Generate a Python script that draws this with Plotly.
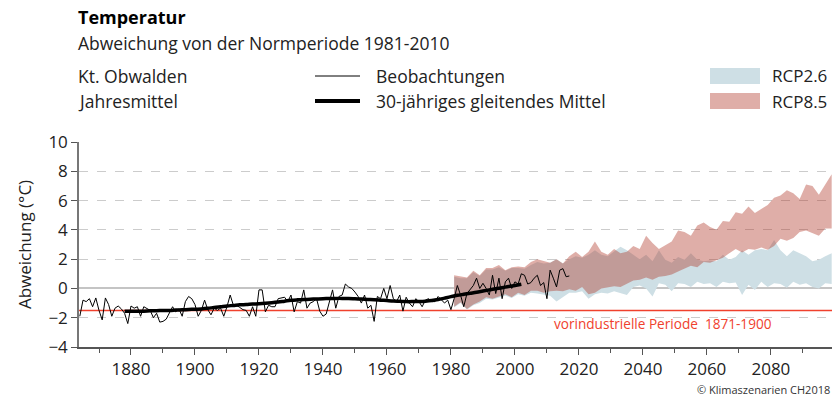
import plotly.graph_objects as go

# ---------------- data ----------------
obs_years = list(range(1864, 2018))
obs_values = [
    -1.9, -0.8, -0.9, -0.7, -1.25, -0.65, -1.5, -2.15, -0.65, -1.1,   # 1864-1873
    -1.9, -1.35, -1.2, -1.4, -1.7, -2.4, -1.2, -1.35, -1.25, -1.9,    # 1874-1883
    -1.25, -1.35, -1.5, -2.0, -1.7, -2.3, -2.25, -2.1, -1.7, -1.25,   # 1884-1893
    -1.6, -1.4, -1.9, -0.9, -0.55, -0.7, -1.1, -1.9, -1.5, -0.8,      # 1894-1903
    -1.45, -1.8, -1.35, -1.5, -1.35, -1.9, -1.25, -0.45, -1.15, -1.15,  # 1904-1913
    -1.3, -1.45, -1.5, -1.9, -1.25, -1.9, -0.1, -0.1, -1.6, -1.15,    # 1914-1923
    -1.25, -1.25, -0.7, -0.65, -0.6, -0.9, -0.45, -1.6, -0.9, -1.0,   # 1924-1933
    -0.1, -1.35, -1.0, -0.9, -0.7, -1.55, -1.9, -1.75, -1.0, -0.1,    # 1934-1943
    -1.35, -0.55, -0.45, 0.3, 0.1, 0.0, -0.25, -0.55, -1.0, -0.45,    # 1944-1953
    -1.35, -1.15, -2.25, -0.55, -0.7, 0.0, -0.7, 0.2, -0.7, -0.9,     # 1954-1963
    -0.45, -1.55, -0.6, -1.0, -1.25, -0.7, -0.9, -1.25, -0.8, -0.7,   # 1964-1973
    -0.9, -0.9, -0.55, -0.8, -1.0, -0.8, -1.45, -0.7, 0.2, -0.45,     # 1974-1983
    -1.25, -0.35, -0.1, 0.2, 0.7, 0.0, 0.35, 0.0, -0.45, 0.9,         # 1984-1993
    -0.35, 0.7, -0.7, 0.45, 0.7, 0.0, 0.45, 0.3, 1.0, 0.9,            # 1994-2003
    0.3, 0.4, 0.7, 0.9, 0.2, 0.4, -0.7, 1.25, 0.7, 0.1,               # 2004-2013
    1.25, 1.35, 0.8, 0.85,                                            # 2014-2017
]

mean_years = list(range(1878, 2003, 2))
mean_values = [
    -1.55, -1.55, -1.55, -1.55, -1.53, -1.52, -1.5, -1.5, -1.48, -1.46,   # 1878-1896
    -1.44, -1.42, -1.4, -1.36, -1.3, -1.25, -1.2, -1.16, -1.12, -1.1,     # 1898-1916
    -1.07, -1.05, -1.02, -0.98, -0.93, -0.87, -0.81, -0.78, -0.76, -0.74, # 1918-1936
    -0.72, -0.7, -0.69, -0.68, -0.68, -0.69, -0.71, -0.73, -0.75, -0.77, # 1938-1956
    -0.8, -0.83, -0.86, -0.88, -0.9, -0.9, -0.89, -0.87, -0.83, -0.76,   # 1958-1976
    -0.66, -0.56, -0.47, -0.4, -0.33, -0.26, -0.18, -0.1, -0.02, 0.05,   # 1978-1996
    0.13, 0.2, 0.28,                                                     # 1998-2002
]

band_years = list(range(1981, 2100, 2))
rcp85_upper = [
    0.9, 0.8, 0.75, 1.2, 0.9, 1.4, 1.4, 1.6, 1.25, 1.45,
    1.5, 1.45, 1.8, 2.0, 1.85, 1.75, 2.0, 1.7, 2.2, 2.5,
    2.15, 2.5, 3.2, 2.5, 2.3, 2.7, 2.4, 2.5, 2.9, 2.7,
    3.6, 3.1, 2.7, 2.95, 3.2, 3.95, 3.85, 3.6, 4.3, 4.5,
    4.2, 4.0, 4.6, 4.55, 5.2, 5.1, 5.6, 5.15, 5.4, 5.7,
    6.2, 6.35, 6.7, 6.5, 6.1, 7.1, 7.0, 6.4, 7.1, 7.8,
]
rcp85_lower = [
    -1.25, -0.95, -1.4, -1.1, -0.9, -0.6, -0.7, -0.55, -0.4, -0.6,
    -0.3, -0.45, -0.15, -0.15, -0.3, -0.2, -0.15, -0.2, -0.05, -0.15,
    0.1, -0.4, -0.3, 0.0, 0.1, 0.15, 0.1, 0.35, 0.55, 0.6,
    0.75, 0.6, 0.8, 0.85, 0.95, 1.15, 1.35, 1.55, 1.45, 1.8,
    1.75, 1.9, 2.1, 2.4, 2.7, 2.45, 2.7, 2.65, 2.8, 2.65,
    2.9, 3.4, 3.25, 3.45, 3.85, 3.95, 3.75, 3.6, 4.1, 4.1,
]
rcp26_upper = [
    0.8, 0.7, 0.7, 1.1, 0.85, 1.3, 1.3, 1.45, 1.2, 1.4,
    1.4, 1.35, 1.6, 1.8, 1.7, 1.75, 2.0, 1.7, 2.0, 2.2,
    2.1, 2.3, 2.6, 2.3, 2.2, 2.5, 2.85, 2.6, 2.3, 2.0,
    2.3, 1.85, 2.6, 1.95, 1.75, 2.15, 1.95, 2.4, 1.95, 1.85,
    1.9, 1.85, 2.3, 1.95, 2.15, 2.6, 2.3, 2.6, 2.7, 2.6,
    3.3, 2.6, 2.2, 2.6, 2.4, 2.2, 1.85, 1.95, 2.2, 2.4,
]
rcp26_lower = [
    -1.3, -1.0, -1.45, -1.15, -1.0, -0.7, -0.75, -0.6, -0.5, -0.65,
    -0.4, -0.5, -0.3, -0.35, -0.4, -0.5, -0.9, -0.6, -0.3, -0.3,
    -0.2, -0.7, -0.4, -0.3, -0.35, -0.2, -0.3, -0.45, 0.1, 0.2,
    0.0, -0.55, 0.35, 0.25, -0.2, 0.35, 0.3, 0.1, 0.45, 0.3,
    0.35, 0.1, 0.45, 0.35, 0.4, -0.45, 0.25, -0.1, 0.45, 0.1,
    0.35, 0.3, 0.05, 0.45, 0.25, 0.35, 0.1, 0.0, 0.35, 0.3,
]

preindustrial_level = -1.5
y_ticks = [-4, -2, 0, 2, 4, 6, 8, 10]
x_range = [1863.75, 2099.1]
y_range = [-4, 10]

# ---------------- style ----------------
FONT = "Open Sans"
BLUE = "rgb(206,223,229)"
RED = "rgba(175,52,37,0.4)"
RED_SWATCH = "rgb(223,174,168)"
PRE_RED = "#f0412d"
TXT = "#222222"

W, H = 834, 401
L, R, T, B = 79, 2, 142, 54


def px(x):
    return (x - L) / (W - L - R)


def py(y):
    return (H - B - y) / (H - T - B)


fig = go.Figure()

# RCP2.6 band
fig.add_trace(go.Scatter(x=band_years, y=rcp26_lower, mode="lines",
                         line=dict(width=0), hoverinfo="skip", showlegend=False))
fig.add_trace(go.Scatter(x=band_years, y=rcp26_upper, mode="lines",
                         line=dict(width=0), fill="tonexty", fillcolor=BLUE,
                         hoverinfo="skip", showlegend=False))
# RCP8.5 band
fig.add_trace(go.Scatter(x=band_years, y=rcp85_lower, mode="lines",
                         line=dict(width=0), hoverinfo="skip", showlegend=False))
fig.add_trace(go.Scatter(x=band_years, y=rcp85_upper, mode="lines",
                         line=dict(width=0), fill="tonexty", fillcolor=RED,
                         hoverinfo="skip", showlegend=False))

# observations and moving mean
fig.add_trace(go.Scatter(x=obs_years, y=obs_values, mode="lines",
                         line=dict(color="black", width=1), showlegend=False))
fig.add_trace(go.Scatter(x=mean_years, y=mean_values, mode="lines",
                         line=dict(color="black", width=3.5, shape="spline"),
                         showlegend=False))

shapes = [
    dict(type="line", xref="x", yref="y", x0=x_range[0], x1=x_range[1],
         y0=preindustrial_level, y1=preindustrial_level,
         line=dict(color=PRE_RED, width=1.5), layer="below"),
    # legend
    dict(type="line", xref="paper", yref="paper", x0=px(315), x1=px(360),
         y0=py(76), y1=py(76), line=dict(color="black", width=1)),
    dict(type="line", xref="paper", yref="paper", x0=px(315), x1=px(360),
         y0=py(101), y1=py(101), line=dict(color="black", width=4)),
    dict(type="rect", xref="paper", yref="paper", x0=px(710), x1=px(760),
         y0=py(84), y1=py(68), fillcolor=BLUE, line=dict(width=0)),
    dict(type="rect", xref="paper", yref="paper", x0=px(710), x1=px(760),
         y0=py(109), y1=py(93), fillcolor=RED_SWATCH, line=dict(width=0)),
]


def text(x, y, s, size=17.5, color=TXT, xanchor="left", bold=False):
    return dict(x=px(x), y=py(y), xref="paper", yref="paper", text=("<b>%s</b>" % s) if bold else s,
                showarrow=False, xanchor=xanchor, yanchor="middle",
                font=dict(family=FONT, size=size, color=color))


annotations = [
    text(76, 17, "Temperatur", size=18, color="black", bold=True),
    text(76, 43, "Abweichung von der Normperiode 1981-2010"),
    text(76, 76, "Kt. Obwalden"),
    text(76, 101, "Jahresmittel"),
    text(374, 76, "Beobachtungen"),
    text(374, 101, "30-jähriges gleitendes Mittel"),
    text(770, 76, "RCP2.6", size=17),
    text(770, 101, "RCP8.5", size=17),
    text(663, 323, "vorindustrielle Periode&nbsp;&nbsp;1871-1900", size=13.6, color=PRE_RED, xanchor="center"),
    text(832, 389, "© Klimaszenarien CH2018", size=11, color="#333333", xanchor="right"),
]

fig.update_layout(
    width=W, height=H,
    margin=dict(l=L, r=R, t=T, b=B),
    paper_bgcolor="white", plot_bgcolor="white",
    font=dict(family=FONT, size=16, color=TXT),
    shapes=shapes, annotations=annotations,
    showlegend=False,
)
fig.update_xaxes(
    range=x_range, tickmode="linear", tick0=1880, dtick=20,
    ticks="outside", ticklen=6, tickcolor="#555", tickwidth=1,
    showline=True, linecolor="#555", linewidth=1.5,
    showgrid=False, zeroline=False,
    tickfont=dict(family=FONT, size=17, color=TXT),
    minor=dict(dtick=10, tick0=1870, ticks="outside", ticklen=4, tickcolor="#555", showgrid=False),
)
fig.update_yaxes(
    range=y_range, tickvals=y_ticks,
    ticks="outside", ticklen=6, tickcolor="#555", tickwidth=1,
    showline=True, linecolor="#777", linewidth=1.5,
    showgrid=True, gridcolor="#cccccc", gridwidth=1, griddash="dash",
    zeroline=True, zerolinecolor="#c4c4c4", zerolinewidth=2,
    tickfont=dict(family=FONT, size=17, color=TXT),
    title=dict(text="Abweichung (°C)", font=dict(family=FONT, size=17, color=TXT), standoff=12),
)

fig.write_html("out.html", config={"displayModeBar": False},
               post_script="document.body.style.margin='0px';")
